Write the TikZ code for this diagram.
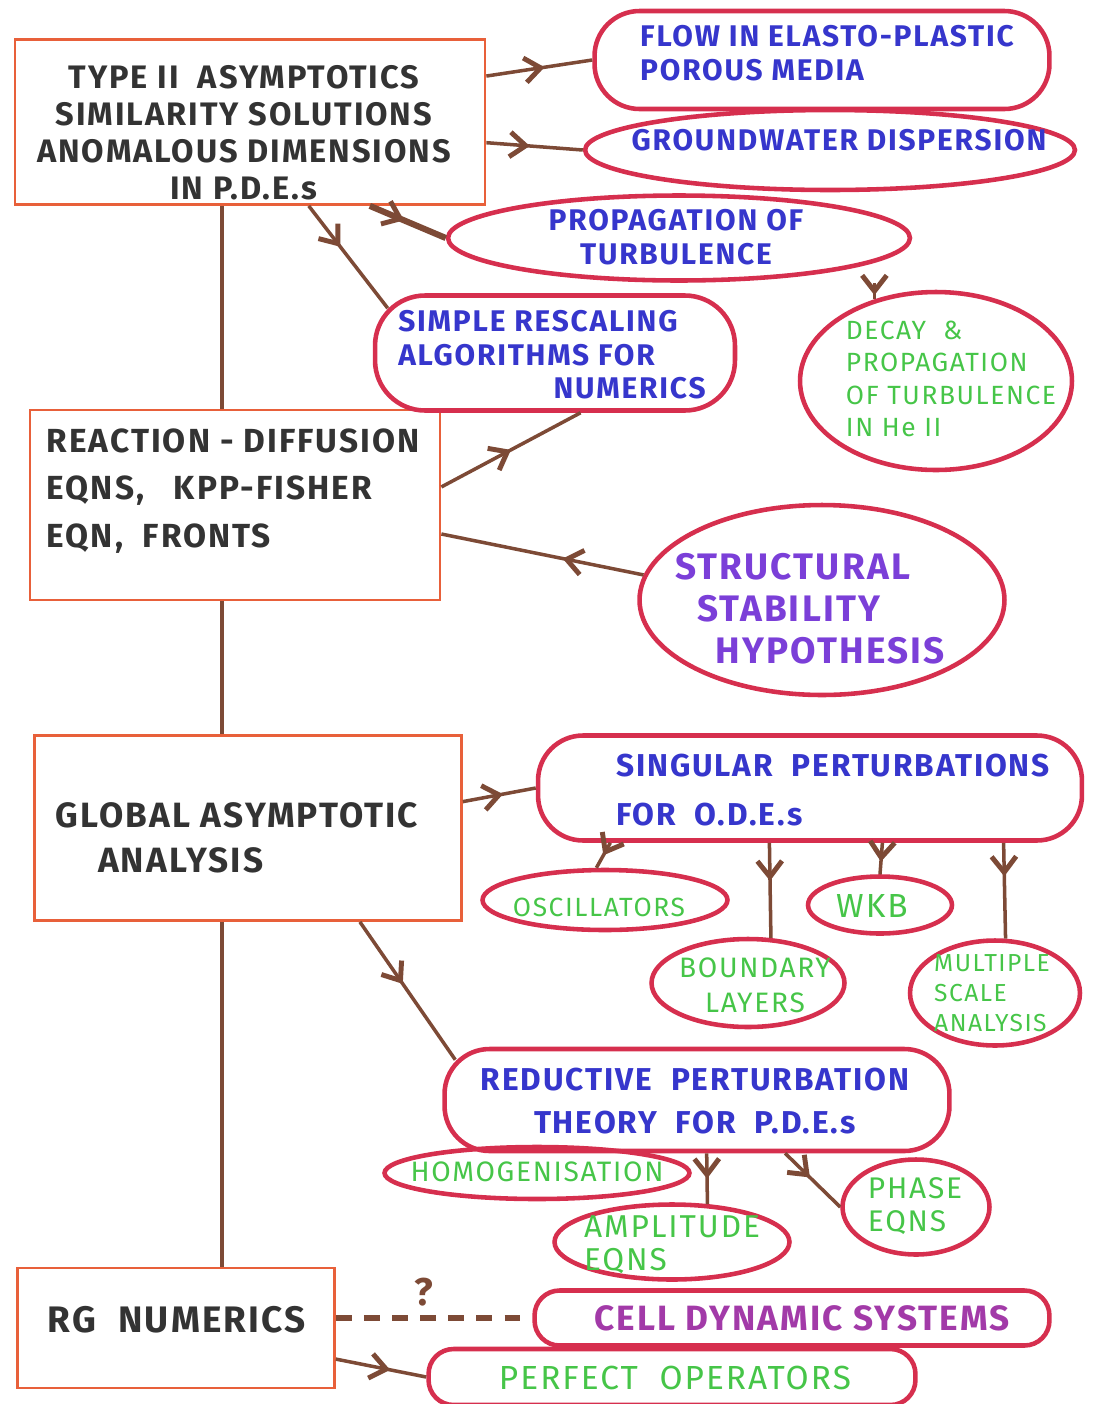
\documentclass[tikz,border=0pt]{standalone}
\usepackage{fontspec}
\setmainfont{Fira Sans}[LetterSpace=6]
\usetikzlibrary{positioning,calc,arrows.meta,shapes.geometric,decorations.markings}
\definecolor{boxred}{HTML}{E8603A}
\definecolor{ovalred}{HTML}{D62F4E}
\definecolor{arrbrown}{HTML}{7D4A36}
\definecolor{inkblack}{HTML}{333333}
\definecolor{inkblue}{HTML}{3636CC}
\definecolor{inkgreen}{HTML}{46C548}
\definecolor{inkpurple}{HTML}{7B3FD8}
\definecolor{inkplum}{HTML}{A23AA8}

\begin{document}
\begin{tikzpicture}[x=0.02cm, y=-0.02cm,
  box/.style={draw=boxred, line width=1.6pt, inner sep=0pt},
  oval/.style={ellipse, draw=ovalred, line width=2.6pt, inner sep=0pt},
  pill/.style={rectangle, rounded corners=#1, draw=ovalred, line width=2.6pt, inner sep=0pt},
  ink/.style={text=inkblack, font=\fontsize{18.5}{21}\selectfont\bfseries, align=left, inner sep=0pt},
  blu/.style={text=inkblue, font=\fontsize{17}{19}\selectfont\bfseries, align=left, inner sep=0pt},
  grn/.style={text=inkgreen, font=\fontsize{15}{18.5}\selectfont, align=left, inner sep=0pt},
  arr/.style={draw=arrbrown, line width=2pt},
  mid/.style={decoration={markings, mark=at position #1 with {\arrow{Straight Barb[length=9pt, width=14pt, line width=2.8pt]}}},
              postaction={decorate}},
  qmark/.style={text=arrbrown, font=\fontsize{22}{22}\selectfont\bfseries},
]
\useasboundingbox (0,0) rectangle (1095,1404);

% Left column: the four boxes
\node[box, minimum width=9.4cm, minimum height=3.3cm] (type2) at (250,122) {};
\node[box, minimum width=8.2cm, minimum height=3.8cm] (react) at (235,505) {};
\node[box, minimum width=8.54cm, minimum height=3.7cm] (glob) at (248,828) {};
\node[box, minimum width=6.34cm, minimum height=2.4cm] (rg) at (176,1328) {};

\node[ink, align=center] (type2txt) at (244,133)
  {TYPE II \ ASYMPTOTICS\\SIMILARITY SOLUTIONS\\ANOMALOUS DIMENSIONS\\IN P.D.E.s};
\node[ink, font=\fontsize{19}{27}\selectfont\bfseries] (reacttxt) at (233,491)
  {REACTION - DIFFUSION\\EQNS, \ \ KPP-FISHER\\EQN, \ FRONTS};
\node[ink, font=\fontsize{20}{25.5}\selectfont\bfseries] (globtxt) at (237,838)
  {GLOBAL ASYMPTOTIC\\\hspace*{1.2em}ANALYSIS};
\node[ink, font=\fontsize{21}{24}\selectfont\bfseries] (rgtxt) at (177,1320) {RG \ NUMERICS};

% Spine
\coordinate (spine) at (222,0);
\draw[arr] (spine |- type2.south) -- (spine |- react.north);
\draw[arr] (spine |- react.south) -- (spine |- glob.north);
\draw[arr] (spine |- glob.south) -- (spine |- rg.north);

% Top group
\node[pill=0.9cm, minimum width=9.1cm, minimum height=1.96cm] (flow) at (822,60) {};
\node[blu] (flowtxt) at (827,53) {FLOW IN ELASTO-PLASTIC\\POROUS MEDIA};
\node[oval, minimum width=9.8cm, minimum height=1.6cm] (ground) at (830,150) {};
\node[blu] (groundtxt) at (839,140) {GROUNDWATER DISPERSION};
\node[oval, minimum width=9.24cm, minimum height=1.7cm] (prop) at (679,238) {};
\node[blu, align=center] (proptxt) at (676,237) {PROPAGATION OF\\TURBULENCE};
\node[pill=1cm, minimum width=7.2cm, minimum height=2.3cm] (simple) at (555,353) {};
\node[blu, font=\fontsize{17}{19}\selectfont\bfseries] (simpletxt) at (552,355)
  {SIMPLE RESCALING\\ALGORITHMS FOR\\\hspace*{5.2em}NUMERICS};
\node[oval, minimum width=5.44cm, minimum height=3.56cm] (decay) at (936,381) {};
\node[grn] (decaytxt) at (951,379) {DECAY \ \&\\PROPAGATION\\OF TURBULENCE\\IN He II};

\draw[arr, mid=0.55] (type2.11) -- (flow.west);
\draw[arr, mid=0.45] (type2.-5) -- (ground.west);
\draw[arr, line width=3.5pt, mid=0.45] (type2.-35) -- (prop.west);
\draw[arr, mid=0.4] (type2.-55) -- ($(simple.north west)+(15,15)$);
\draw[arr, mid=0.75] (decay.127 |- prop.south) -- (decay.127);

% Fronts and structural stability
\node[oval, minimum width=7.3cm, minimum height=3.8cm] (struct) at (822,600) {};
\node[text=inkpurple, font=\fontsize{21}{24}\selectfont\bfseries, align=left, inner sep=0pt] (structtxt) at (810,609)
  {STRUCTURAL\\\hspace*{0.6em}STABILITY\\\hspace*{1.1em}HYPOTHESIS};
\draw[arr, mid=0.5] (react.5) -- ($(simple.south west)!0.57!(simple.south east)$);
\draw[arr, mid=0.4] (struct.172) -- (react.-8);

% Singular perturbations for ODEs
\node[pill=0.9cm, minimum width=10.88cm, minimum height=2.1cm] (sing) at (810,788) {};
\node[blu, font=\fontsize{18}{28}\selectfont\bfseries] (singtxt) at (833,790) {SINGULAR \ PERTURBATIONS\\FOR \ O.D.E.s};
\node[oval, minimum width=4.9cm, minimum height=1.2cm] (osc) at (605,900) {};
\node[grn] (osctxt) at (599,907) {OSCILLATORS};
\node[oval, minimum width=2.88cm, minimum height=1.14cm] (wkb) at (880,905) {};
\node[grn, font=\fontsize{19}{19}\selectfont] (wkbtxt) at (872,906) {WKB};
\node[oval, minimum width=3.86cm, minimum height=1.76cm] (bound) at (748,983) {};
\node[grn, align=center, font=\fontsize{16}{20}\selectfont] (boundtxt) at (755,985) {BOUNDARY\\LAYERS};
\node[oval, minimum width=3.4cm, minimum height=2.1cm] (mult) at (995,993) {};
\node[grn, font=\fontsize{14}{17}\selectfont] (multtxt) at (992,993) {MULTIPLE\\SCALE\\ANALYSIS};

\draw[arr, mid=0.55] (glob.7) -- (sing.west);
\draw[arr, mid=0.5] ($(sing.south west)!0.136!(sing.south east)$) -- (osc.105);
\draw[arr, mid=0.4] ($(sing.south west)!0.426!(sing.south east)$) -- (bound.63);
\draw[arr, mid=0.6] ($(sing.south west)!0.632!(sing.south east)$) -- (wkb.north);
\draw[arr, mid=0.35] ($(sing.south west)!0.853!(sing.south east)$) -- (mult.79);

% Reductive perturbation theory for PDEs
\node[pill=0.9cm, minimum width=10.1cm, minimum height=2.04cm] (red) at (697,1100) {};
\node[blu, align=center, font=\fontsize{18}{24}\selectfont\bfseries] (redtxt) at (695,1101)
  {REDUCTIVE \ PERTURBATION\\THEORY \ FOR \ P.D.E.s};
\node[oval, minimum width=6.1cm, minimum height=1.04cm] (homog) at (537,1173) {};
\node[grn, font=\fontsize{16}{18}\selectfont] (homogtxt) at (537,1172) {HOMOGENISATION};
\node[oval, minimum width=4.7cm, minimum height=1.5cm] (amp) at (672,1242) {};
\node[grn, font=\fontsize{18}{19}\selectfont] (amptxt) at (672,1245) {AMPLITUDE\\EQNS};
\node[oval, minimum width=2.94cm, minimum height=1.9cm] (phase) at (916,1207) {};
\node[grn, font=\fontsize{17}{18.5}\selectfont] (phasetxt) at (915,1206) {PHASE\\EQNS};

\draw[arr, mid=0.45] (glob.-40) -- ($(red.north west)+(13,13)$);
\draw[arr, mid=0.5] ($(red.south west)!0.519!(red.south east)$) -- (amp.47);
\draw[arr, mid=0.45] ($(red.south west)!0.673!(red.south east)$) -- (phase.west);

% RG numerics
\node[pill=0.5cm, minimum width=10.3cm, minimum height=1.1cm] (cell) at (792,1318) {};
\node[text=inkplum, font=\fontsize{20}{20}\selectfont\bfseries, inner sep=0pt] (celltxt) at (802,1318) {CELL DYNAMIC SYSTEMS};
\node[pill=0.5cm, minimum width=9.74cm, minimum height=1.12cm] (perf) at (672,1377) {};
\node[grn, font=\fontsize{19}{19}\selectfont] (perftxt) at (675,1378) {PERFECT \ OPERATORS};

\draw[arr, line width=3pt, dash pattern=on 9pt off 7pt] (cell.west -| rg.east) -- node[qmark, above=2pt, pos=0.45] (qm) {?} (cell.west);
\draw[arr, mid=0.6] (rg.-11) -- (perf.west);

\end{tikzpicture}
\end{document}
